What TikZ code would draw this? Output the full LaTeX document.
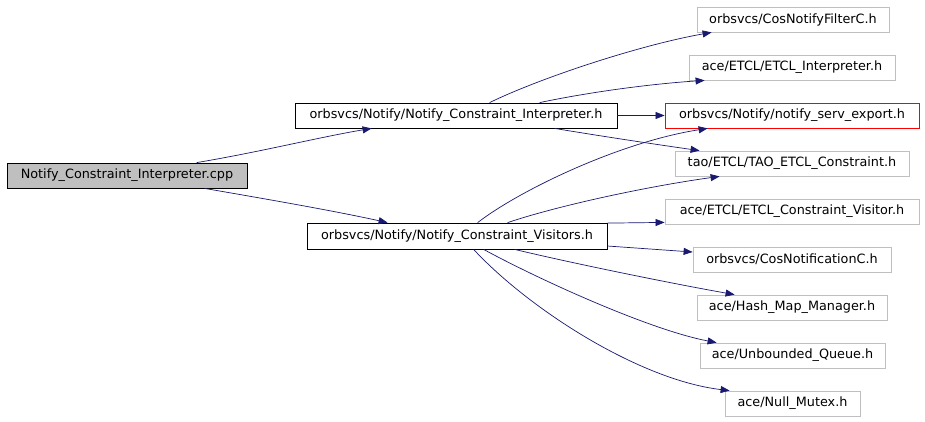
\documentclass[tikz,border=0pt]{standalone}
\usepackage{fontspec}
\setmainfont{DejaVu Sans}
\usetikzlibrary{arrows.meta,calc}
\definecolor{edgec}{HTML}{191970}
\definecolor{graybox}{HTML}{BFBFBF}
\tikzset{
  box/.style={draw, line width=0.8pt, inner sep=0pt, font=\fontsize{12.8}{14}\selectfont, anchor=center},
  mainbox/.style={box, draw=black},
  leafbox/.style={box, draw=graybox},
  dep/.style={draw=edgec, line width=0.7pt, -{Triangle[length=9pt,width=7pt]}, fill=none}
}
\begin{document}
\begin{tikzpicture}[x=1pt,y=-1pt]
\useasboundingbox (0,0) rectangle (925,421);
% nodes
\node[mainbox, fill=graybox, minimum width=240, minimum height=25] (cpp) at (127,175.5) {Notify\_Constraint\_Interpreter.cpp};
\node[mainbox, minimum width=322, minimum height=25] (ci) at (456,115.5) {orbsvcs/Notify/Notify\_Constraint\_Interpreter.h};
\node[mainbox, minimum width=300, minimum height=26] (cv) at (457,236) {orbsvcs/Notify/Notify\_Constraint\_Visitors.h};
\node[leafbox, minimum width=192, minimum height=25] (cnf) at (793,19.5) {orbsvcs/CosNotifyFilterC.h};
\node[leafbox, minimum width=206, minimum height=25] (ei) at (792,67.5) {ace/ETCL/ETCL\_Interpreter.h};
\node[box, draw=red, minimum width=254, minimum height=25] (nse) at (792,115.5) {orbsvcs/Notify/notify\_serv\_export.h};
\node[leafbox, minimum width=234, minimum height=25] (tec) at (792,163.5) {tao/ETCL/TAO\_ETCL\_Constraint.h};
\node[leafbox, minimum width=254, minimum height=25] (ecv) at (792,211.5) {ace/ETCL/ETCL\_Constraint\_Visitor.h};
\node[leafbox, minimum width=198, minimum height=25] (cnc) at (792,259.5) {orbsvcs/CosNotificationC.h};
\node[leafbox, minimum width=190, minimum height=25] (hmm) at (792,307.5) {ace/Hash\_Map\_Manager.h};
\node[leafbox, minimum width=185, minimum height=25] (uq) at (792.5,355.5) {ace/Unbounded\_Queue.h};
\node[leafbox, minimum width=135, minimum height=25] (nm) at (792.5,403.5) {ace/Null\_Mutex.h};
% edges
\draw[dep] ($(cpp.north west)+(190,0)$) .. controls (260,152) and (320,137) .. ($(ci.south west)+(77,0)$);
\draw[dep] ($(cpp.south west)+(198,0)$) .. controls (260,198) and (330,210) .. ($(cv.north west)+(81,0)$);
\draw[dep] ($(ci.north west)+(195,0)$) .. controls (540,78) and (640,45) .. ($(cnf.south west)+(15,0)$);
\draw[dep] ($(ci.north west)+(245,0)$) .. controls (590,92) and (650,84) .. ($(ei.south west)+(16,0)$);
\draw[dep] (ci.east) -- (nse.west);
\draw[dep] ($(ci.south west)+(260,0)$) .. controls (600,136) and (660,145) .. ($(tec.north west)+(25,0)$);
\draw[dep] ($(cv.north west)+(171,0)$) .. controls (520,190) and (620,142) .. ($(nse.south west)+(43,0)$);
\draw[dep] ($(cv.north west)+(201,0)$) .. controls (560,205) and (650,186) .. ($(tec.south west)+(45,0)$);
\draw[dep] ($(cv.north east)+(0,0.5)$) -- ($(ecv.south west)+(0,-2)$);
\draw[dep] ($(cv.east)+(0,10)$) -- ($(cnc.west)+(0,-7.5)$);
\draw[dep] ($(cv.south west)+(208,0)$) .. controls (580,265) and (680,285) .. ($(hmm.north west)+(38,0)$);
\draw[dep] ($(cv.south west)+(177,0)$) .. controls (540,280) and (650,330) .. ($(uq.north west)+(17,0)$);
\draw[dep] ($(cv.south west)+(167,0)$) .. controls (530,310) and (640,380) .. ($(nm.north west)+(5,0)$);
\end{tikzpicture}
\end{document}
